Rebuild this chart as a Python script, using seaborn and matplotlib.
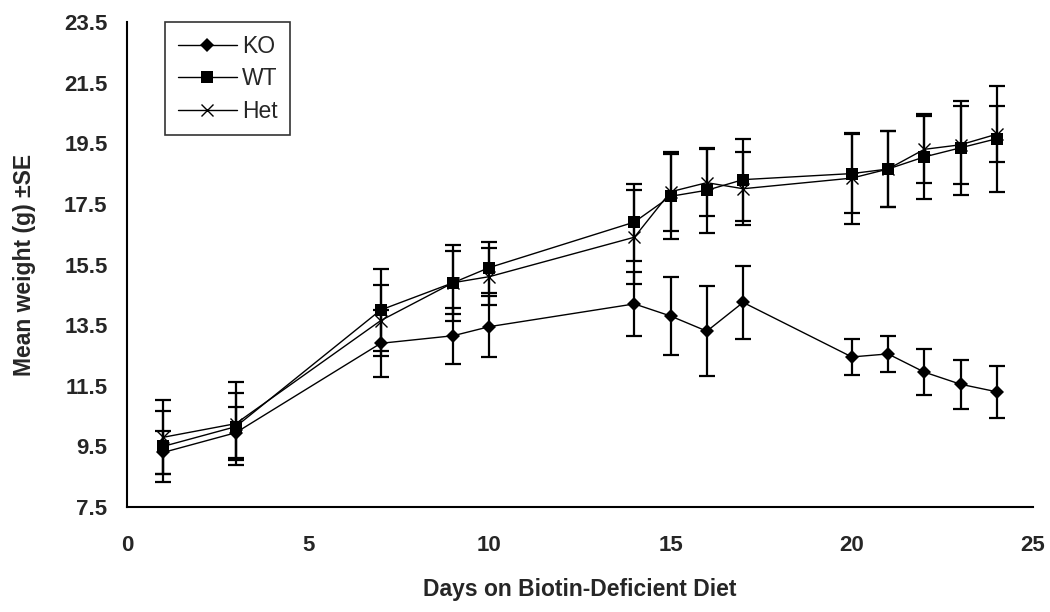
import matplotlib
matplotlib.use('Agg')
import matplotlib.pyplot as plt
import seaborn as sns
import pandas as pd

# days on diet
days = [1, 3, 7, 9, 10, 14, 15, 16, 17, 20, 21, 22, 23, 24]

# mean weights (g) and standard errors
ko = [9.3, 9.95, 12.9, 13.15, 13.45, 14.2, 13.8, 13.3, 14.25, 12.45, 12.55, 11.95, 11.55, 11.3]
ko_se = [0.71, 0.85, 1.1, 0.93, 1.0, 1.05, 1.3, 1.48, 1.2, 0.58, 0.6, 0.75, 0.81, 0.85]
wt = [9.5, 10.15, 14.0, 14.9, 15.4, 16.9, 17.75, 17.95, 18.3, 18.5, 18.65, 19.05, 19.35, 19.65]
wt_se = [1.16, 1.1, 1.35, 1.26, 0.85, 1.27, 1.4, 1.4, 1.35, 1.3, 1.25, 1.4, 1.55, 1.75]
het = [9.8, 10.25, 13.65, 14.9, 15.1, 16.4, 17.9, 18.2, 18.0, 18.35, 18.65, 19.3, 19.45, 19.8]
het_se = [1.22, 1.36, 1.17, 1.04, 0.95, 1.55, 1.3, 1.1, 1.2, 1.5, 1.25, 1.1, 1.28, 0.93]

groups = ['KO', 'WT', 'Het']
yticks = [7.5, 9.5, 11.5, 13.5, 15.5, 17.5, 19.5, 21.5, 23.5]
xticks = [0, 5, 10, 15, 20, 25]

sns.set_style('white')
plt.rcParams['font.family'] = ['Liberation Sans', 'DejaVu Sans']

fig = plt.figure(figsize=(10.5, 6.12), dpi=100)
ax = fig.add_axes([0.121, 0.1716, 0.8628, 0.7924])

series = {
    'KO': (ko, ko_se, dict(marker='D', markersize=7, mew=0)),
    'WT': (wt, wt_se, dict(marker='s', markersize=9, mew=0)),
    'Het': (het, het_se, dict(marker='x', markersize=8, mew=1.0, mec='black')),
}

for name in groups:
    vals, se, mk = series[name]
    df = pd.DataFrame({'day': days, 'weight': vals})
    ax.errorbar(days, vals, yerr=se, fmt='none', ecolor='black',
                elinewidth=1.6, capsize=5.5, capthick=1.6, zorder=2)
    sns.lineplot(data=df, x='day', y='weight', color='black', linewidth=1.0,
                 label=name, ax=ax, zorder=3, **mk)

ax.set_xlim(0, 25)
ax.set_ylim(7.5, 23.5)
ax.set_xticks(xticks)
ax.set_yticks(yticks)
ax.set_xticklabels([str(t) for t in xticks], fontsize=16, fontweight='bold')
ax.set_yticklabels([str(t) for t in yticks], fontsize=16, fontweight='bold')
ax.tick_params(axis='both', direction='out', length=5, width=1.2, color='black')
ax.tick_params(axis='y', pad=9)
ax.tick_params(axis='x', pad=15)

for side in ['top', 'right']:
    ax.spines[side].set_visible(False)
for side in ['left', 'bottom']:
    ax.spines[side].set_color('black')
    ax.spines[side].set_linewidth(1.5)

ax.set_xlabel('Days on Biotin-Deficient Diet', fontsize=16.5, fontweight='bold', labelpad=16)
ax.set_ylabel('Mean weight (g) ±SE', fontsize=16.5, fontweight='bold', labelpad=20)

leg = ax.legend(loc='upper left', bbox_to_anchor=(0.042, 1.0), borderaxespad=0,
                fontsize=16.5, frameon=True, fancybox=False, handlelength=2.6,
                handletextpad=0.2, labelspacing=0.42, borderpad=0.55)
leg.get_frame().set_edgecolor('black')
leg.get_frame().set_linewidth(1.2)

fig.savefig('out.png', dpi=100)
